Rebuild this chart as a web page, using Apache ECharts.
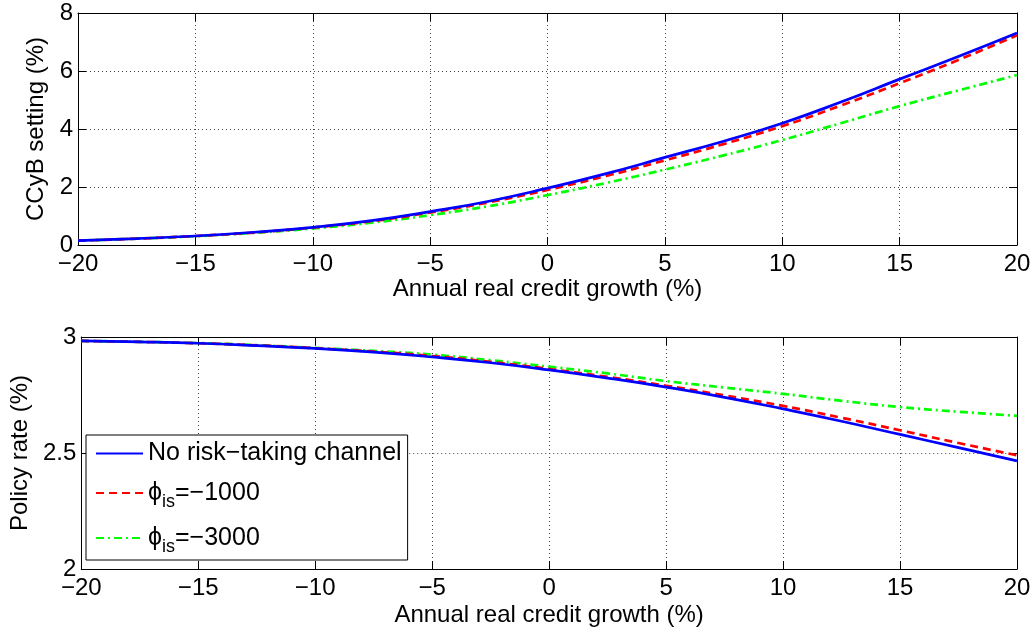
<!DOCTYPE html>
<html>
<head>
<meta charset="utf-8">
<script src="https://cdn.jsdelivr.net/npm/echarts@6/dist/echarts.min.js"></script>
<style>
html,body{margin:0;padding:0;background:#fff;}
#chart{width:1034px;height:633px;}
</style>
</head>
<body>
<div id="chart"></div>
<script>
// Annual real credit growth (%)
const xValues = [-20, -17.5, -15, -12.5, -10, -7.5, -5, -2.5, 0, 2.5, 5, 7.5, 10, 12.5, 15, 17.5, 20];

// CCyB setting (%)
const ccybNoRisk = [0.15, 0.22, 0.31, 0.44, 0.61, 0.84, 1.15, 1.51, 1.96, 2.46, 3.02, 3.58, 4.2, 4.93, 5.72, 6.5, 7.31];
const ccyb1000   = [0.15, 0.22, 0.31, 0.43, 0.60, 0.82, 1.12, 1.47, 1.90, 2.38, 2.92, 3.48, 4.1, 4.81, 5.58, 6.38, 7.23];
const ccyb3000   = [0.15, 0.22, 0.30, 0.42, 0.57, 0.77, 1.03, 1.34, 1.72, 2.14, 2.60, 3.09, 3.62, 4.2, 4.79, 5.33, 5.86];

// Policy rate (%)
const rateNoRisk = [2.983, 2.979, 2.973, 2.963, 2.951, 2.935, 2.914, 2.889, 2.858, 2.823, 2.784, 2.740, 2.690, 2.637, 2.580, 2.523, 2.466];
const rate1000   = [2.983, 2.979, 2.973, 2.964, 2.952, 2.937, 2.918, 2.893, 2.862, 2.828, 2.790, 2.748, 2.703, 2.652, 2.598, 2.543, 2.490];
const rate3000   = [2.983, 2.979, 2.974, 2.965, 2.953, 2.940, 2.924, 2.900, 2.872, 2.843, 2.810, 2.782, 2.755, 2.725, 2.698, 2.678, 2.660];

const seriesNames = ['No risk\u2212taking channel', '\u03d5is=\u22121000', '\u03d5is=\u22123000'];
const xTitle = 'Annual real credit growth (%)';
const yTitleTop = 'CCyB setting (%)';
const yTitleBottom = 'Policy rate (%)';

const FONT = "'Liberation Sans', Arial, Helvetica, sans-serif";
const pairs = (ys) => xValues.map((x, i) => [x, ys[i]]);
const fmtNum = (v) => String(v).replace('-', '\u2212');

function xAxisPair(gridIndex, gap) {
  return [
    {
      type: 'value', gridIndex, position: 'bottom', min: -20, max: 20, interval: 5,
      name: xTitle, nameLocation: 'middle', nameGap: gap,
      nameTextStyle: { fontFamily: FONT, fontSize: 24, color: '#000' },
      axisLine: { show: true, onZero: false, lineStyle: { color: '#000', width: 1 } },
      axisTick: { show: true, inside: true, length: 8, lineStyle: { color: '#000' } },
      axisLabel: { fontFamily: FONT, fontSize: 24, color: '#000', margin: 7, formatter: fmtNum },
      splitLine: { show: true, lineStyle: { color: '#444', width: 1, type: [1, 3] } }
    },
    {
      type: 'value', gridIndex, position: 'top', min: -20, max: 20, interval: 5,
      axisLine: { show: true, onZero: false, lineStyle: { color: '#000', width: 1 } },
      axisTick: { show: true, inside: true, length: 8, lineStyle: { color: '#000' } },
      axisLabel: { show: false },
      splitLine: { show: false }
    }
  ];
}

function yAxisPair(gridIndex, min, max, interval, title, gap) {
  return [
    {
      type: 'value', gridIndex, position: 'left', min, max, interval,
      name: title, nameLocation: 'middle', nameGap: gap,
      nameTextStyle: { fontFamily: FONT, fontSize: 24, color: '#000' },
      axisLine: { show: true, onZero: false, lineStyle: { color: '#000', width: 1 } },
      axisTick: { show: true, inside: true, length: 8, lineStyle: { color: '#000' } },
      axisLabel: { fontFamily: FONT, fontSize: 24, color: '#000', margin: 5, formatter: fmtNum },
      splitLine: { show: true, lineStyle: { color: '#444', width: 1, type: [1, 3] } }
    },
    {
      type: 'value', gridIndex, position: 'right', min, max, interval,
      axisLine: { show: true, onZero: false, lineStyle: { color: '#000', width: 1 } },
      axisTick: { show: true, inside: true, length: 8, lineStyle: { color: '#000' } },
      axisLabel: { show: false },
      splitLine: { show: false }
    }
  ];
}

const styles = [
  { color: '#0000ff', type: 'solid' },
  { color: '#ff0000', type: [8, 5] },
  { color: '#00ff00', type: [8, 4, 2, 4] }
];

function mkSeries(name, data, idx, xi, yi) {
  return {
    name, type: 'line', data: pairs(data), xAxisIndex: xi, yAxisIndex: yi,
    symbol: 'none', smooth: true, z: 10 - idx,
    lineStyle: { color: styles[idx].color, width: 2.7, type: styles[idx].type },
    itemStyle: { color: styles[idx].color }
  };
}

const chart = echarts.init(document.getElementById('chart'), null, { renderer: 'canvas' });
chart.setOption({
  backgroundColor: '#fff',
  animation: false,
  grid: [
    { left: 78, top: 13, width: 939, height: 232 },
    { left: 78, top: 337, width: 939, height: 232 }
  ],
  xAxis: [...xAxisPair(0, 32), ...xAxisPair(1, 34)],
  yAxis: [...yAxisPair(0, 0, 8, 2, yTitleTop, 21), ...yAxisPair(1, 2, 3, 0.5, yTitleBottom, 35)],
  legend: {
    orient: 'vertical', left: 86, top: 435,
    backgroundColor: '#fff', borderColor: '#000', borderWidth: 1,
    padding: [6, 6, 4, 9],
    itemGap: 9, itemWidth: 47, itemHeight: 14,
    itemStyle: { opacity: 0 },
    data: seriesNames,
    formatter: function (name) {
      if (name.indexOf('\u03d5is') === 0) {
        return '{a|\u03d5}{s|is}{a|' + name.slice(3) + '}';
      }
      return '{a|' + name + '}';
    },
    textStyle: {
      fontFamily: FONT, fontSize: 25, color: '#000',
      rich: {
        a: { fontFamily: FONT, fontSize: 25, color: '#000', lineHeight: 28 },
        s: { fontFamily: FONT, fontSize: 18, color: '#000', lineHeight: 18, padding: [18, 0, 0, 0] }
      }
    }
  },
  series: [
    mkSeries(seriesNames[0], ccybNoRisk, 0, 0, 0),
    mkSeries(seriesNames[1], ccyb1000, 1, 0, 0),
    mkSeries(seriesNames[2], ccyb3000, 2, 0, 0),
    mkSeries(seriesNames[0], rateNoRisk, 0, 2, 2),
    mkSeries(seriesNames[1], rate1000, 1, 2, 2),
    mkSeries(seriesNames[2], rate3000, 2, 2, 2)
  ]
});
</script>
</body>
</html>
